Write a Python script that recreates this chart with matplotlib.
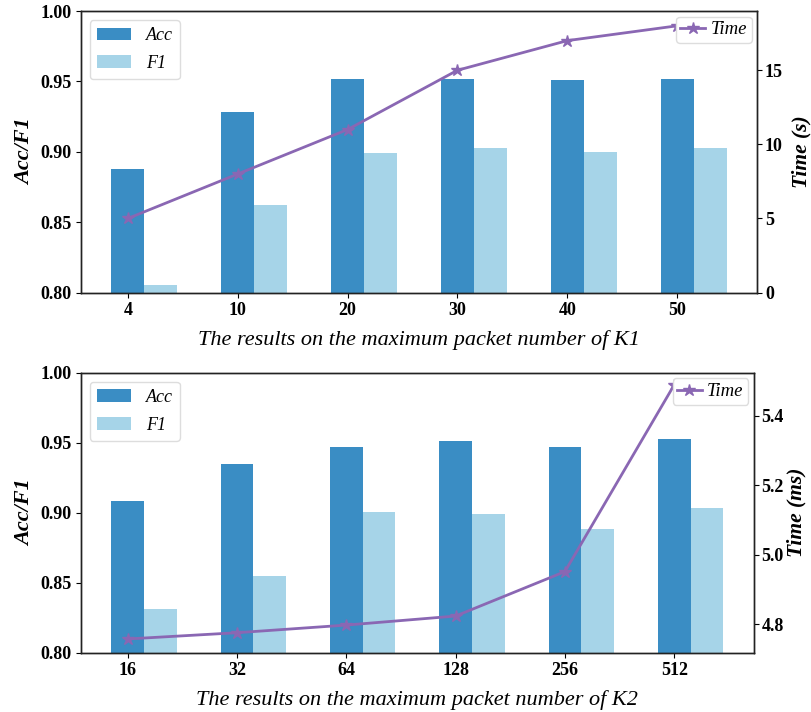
import matplotlib
matplotlib.use("Agg")
import matplotlib.pyplot as plt
import numpy as np

plt.rcParams['font.family'] = ['Liberation Serif', 'DejaVu Serif']
plt.rcParams['mathtext.fontset'] = 'stix'

# Top chart data (K1)
k1_labels = ['4', '10', '20', '30', '40', '50']
k1_acc = [0.8875, 0.9284, 0.9515, 0.9515, 0.951, 0.952]
k1_f1 = [0.8054, 0.862, 0.8989, 0.9024, 0.8996, 0.9024]
k1_time = [5.0, 8.0, 11.0, 15.0, 17.0, 18.0]

# Bottom chart data (K2)
k2_labels = ['16', '32', '64', '128', '256', '512']
k2_acc = [0.9084, 0.9345, 0.9466, 0.9514, 0.9466, 0.9524]
k2_f1 = [0.8312, 0.8548, 0.9001, 0.8989, 0.8882, 0.9032]
k2_time = [4.757, 4.775, 4.797, 4.823, 4.951, 5.489]

ACC_C = '#3a8dc4'
F1_C = '#a6d4e8'
TIME_C = '#8a67b3'

fig = plt.figure(figsize=(8.12, 7.12), dpi=100)
W, H = 812, 712
TICK_FS = 13

def make(rect, labels, acc, f1, time, xlabel, tlabel, tylim, tticks, tpad):
    l, t, r, b = rect
    ax = fig.add_axes([l / W, 1 - b / H, (r - l) / W, (b - t) / H])
    x = np.arange(len(labels))
    w = 0.3
    ax.bar(x, acc, w, color=ACC_C, label='Acc')
    ax.bar(x + w, f1, w, color=F1_C, label='F1')
    ax.set_ylim(0.80, 1.00)
    ax.set_yticks([0.80, 0.85, 0.90, 0.95, 1.00])
    ax.set_yticklabels(['0.80', '0.85', '0.90', '0.95', '1.00'])
    ax.set_xticks(x)
    ax.set_xticklabels(labels)
    ax.set_xlim(-0.43, 5.73)
    for lab in ax.get_xticklabels() + ax.get_yticklabels():
        lab.set_fontweight('bold')
        lab.set_fontsize(TICK_FS)
    ax.tick_params(axis='both', pad=3)
    ax.set_ylabel('Acc/F1', fontsize=16, fontweight='bold', fontstyle='italic', labelpad=4)
    ax.set_xlabel(xlabel, fontsize=16, fontstyle='italic', labelpad=8)
    ax.legend(loc='upper left', prop={'style': 'italic', 'size': 13},
              handlelength=1.9, handleheight=0.7, labelspacing=0.6,
              borderaxespad=0.5, framealpha=1, edgecolor='#dddddd')
    ax2 = ax.twinx()
    ax2.plot(x, time, color=TIME_C, marker='*', markersize=9, linewidth=2, label='Time')
    ax2.set_ylim(*tylim)
    ax2.set_yticks(tticks)
    ax2.tick_params(axis='y', pad=2)
    for lab in ax2.get_yticklabels():
        lab.set_fontweight('bold')
        lab.set_fontsize(TICK_FS)
    ax2.set_ylabel(tlabel, fontsize=15.5, fontweight='bold', fontstyle='italic', labelpad=tpad)
    ax2.legend(loc='upper right', prop={'style': 'italic', 'size': 13.5},
               handlelength=1.3, handletextpad=0.3, borderpad=0.25,
               borderaxespad=0.3, framealpha=1, edgecolor='#dddddd')
    for a in (ax, ax2):
        for s in a.spines.values():
            s.set_linewidth(1.0)
            s.set_color('#222222')
    return ax, ax2

make((80.7, 11, 757.3, 292.5), k1_labels, k1_acc, k1_f1, k1_time,
     'The results on the maximum packet number of K1', 'Time (s)', (0, 19.0), [0, 5, 10, 15], 6)
make((80.7, 372.7, 754, 652.5), k2_labels, k2_acc, k2_f1, k2_time,
     'The results on the maximum packet number of K2', 'Time (ms)', (4.718, 5.524), [4.8, 5.0, 5.2, 5.4], 2)

fig.savefig('out.png', dpi=100)
